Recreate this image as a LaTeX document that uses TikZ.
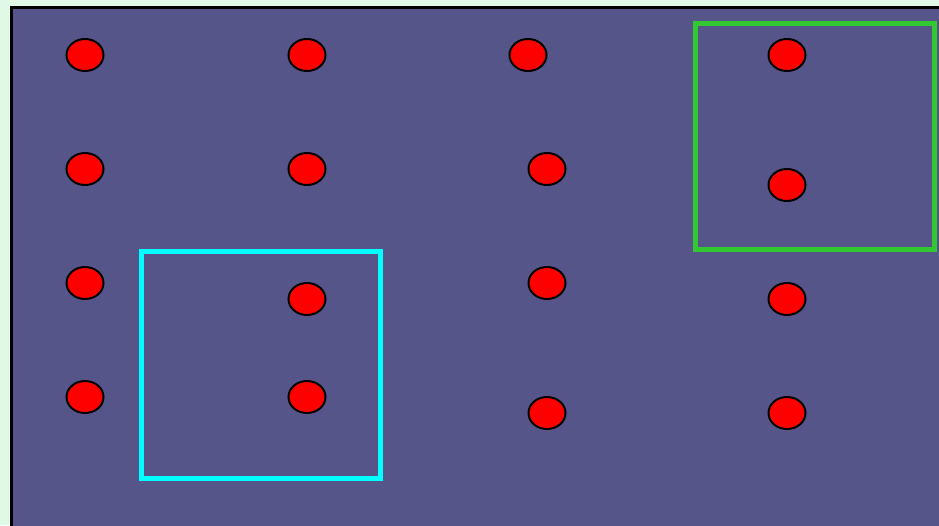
\documentclass[tikz,border=0pt]{standalone}
\usetikzlibrary{shapes.geometric}
\definecolor{bgmargin}{RGB}{224,248,230}
\definecolor{panel}{RGB}{85,85,138}
\definecolor{boxgreen}{RGB}{50,200,50}
\definecolor{boxcyan}{RGB}{0,255,255}
\tikzset{
  dot/.style={ellipse, draw=black, fill=red, line width=2pt, minimum width=37pt, minimum height=32pt, inner sep=0pt},
  framebox/.style={line width=4.5pt}
}
\begin{document}
\begin{tikzpicture}[x=1pt,y=-1pt]
\useasboundingbox (0,0) rectangle (939,525);
\fill[bgmargin] (0,0) rectangle (939,525);
\draw[fill=panel, line width=3pt] (11.5,7.5) rectangle (950,540);
\node[dot] (a1) at (85,55) {};
\node[dot] (a2) at (307,55) {};
\node[dot] (a3) at (528,55) {};
\node[dot] (a4) at (787,55) {};
\node[dot] (b1) at (85,169) {};
\node[dot] (b2) at (307,169) {};
\node[dot] (b3) at (547,169) {};
\node[dot] (b4) at (787,185) {};
\node[dot] (c1) at (85,283) {};
\node[dot] (c2) at (307,299) {};
\node[dot] (c3) at (547,283) {};
\node[dot] (c4) at (787,299) {};
\node[dot] (d1) at (85,397) {};
\node[dot] (d2) at (307,397) {};
\node[dot] (d3) at (547,413) {};
\node[dot] (d4) at (787,413) {};
\draw[framebox, draw=boxcyan] (141.5,251.5) rectangle (380.5,478.5);
\draw[framebox, draw=boxgreen] (695.5,23.5) rectangle (934.5,249.5);
\end{tikzpicture}
\end{document}
